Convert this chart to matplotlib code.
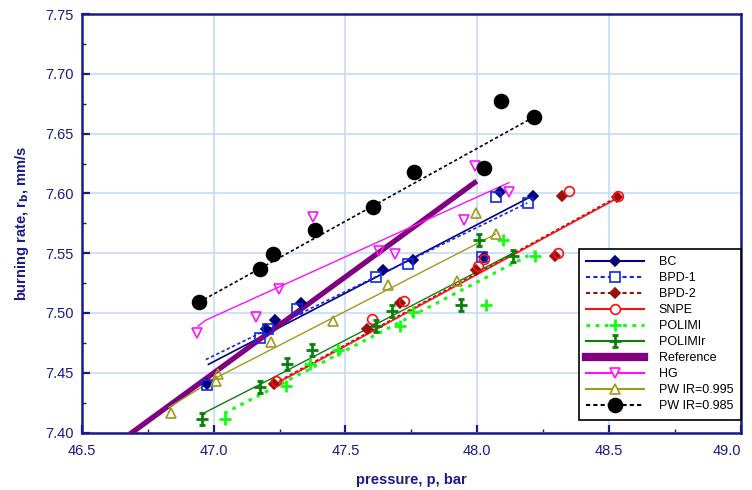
import matplotlib
matplotlib.use("Agg")
import matplotlib.pyplot as plt
from matplotlib.lines import Line2D
from matplotlib.path import Path
from matplotlib.ticker import MultipleLocator
import numpy as np

plt.rcParams['font.family'] = ['Liberation Sans', 'DejaVu Sans']

# ---------------- data ----------------
bc_x = [46.976, 47.200, 47.231, 47.333, 47.641, 47.755, 48.024, 48.085, 48.213]
bc_y = [7.441, 7.487, 7.494, 7.508, 7.536, 7.544, 7.547, 7.601, 7.598]
bc_fit_x = [46.98, 48.21]
bc_fit_y = [7.457, 7.598]

bpd1_x = [46.973, 47.175, 47.206, 47.317, 47.614, 47.736, 48.018, 48.072, 48.191]
bpd1_y = [7.440, 7.479, 7.487, 7.503, 7.530, 7.541, 7.547, 7.597, 7.592]
bpd1_fit_x = [46.97, 48.19]
bpd1_fit_y = [7.461, 7.592]

bpd2_x = [47.228, 47.582, 47.708, 47.995, 48.295, 48.321, 48.529]
bpd2_y = [7.441, 7.487, 7.508, 7.536, 7.548, 7.598, 7.597]
bpd2_fit_x = [47.23, 48.54]
bpd2_fit_y = [7.441, 7.598]

snpe_x = [47.235, 47.601, 47.723, 48.004, 48.024, 48.308, 48.350, 48.536]
snpe_y = [7.443, 7.495, 7.510, 7.539, 7.545, 7.550, 7.602, 7.598]
snpe_fit_x = [47.23, 48.54]
snpe_fit_y = [7.440, 7.597]

polimi_x = [47.042, 47.273, 47.365, 47.471, 47.708, 47.756, 48.034, 48.097, 48.220]
polimi_y = [7.411, 7.439, 7.457, 7.469, 7.489, 7.501, 7.507, 7.561, 7.548]
polimi_fit_x = [47.04, 48.22]
polimi_fit_y = [7.416, 7.551]

polimir_x = [46.957, 47.175, 47.277, 47.374, 47.614, 47.677, 47.938, 48.008, 48.135]
polimir_y = [7.411, 7.438, 7.457, 7.469, 7.489, 7.502, 7.507, 7.561, 7.548]
polimir_fit_x = [46.96, 47.20, 48.135]
polimir_fit_y = [7.416, 7.443, 7.550]

ref_x = [46.69, 47.99]
ref_y = [7.400, 7.609]

hg_x = [46.937, 47.160, 47.246, 47.378, 47.626, 47.687, 47.948, 47.992, 48.122]
hg_y = [7.483, 7.497, 7.520, 7.580, 7.552, 7.549, 7.578, 7.623, 7.601]
hg_fit_x = [46.94, 46.97, 48.12]
hg_fit_y = [7.489, 7.494, 7.609]

pw995_x = [46.837, 47.010, 47.016, 47.216, 47.452, 47.660, 47.925, 47.996, 48.072]
pw995_y = [7.416, 7.443, 7.449, 7.476, 7.493, 7.523, 7.527, 7.584, 7.566]
pw995_fit_x = [46.83, 47.02, 48.07]
pw995_fit_y = [7.421, 7.447, 7.566]

pw985_x = [46.944, 47.174, 47.226, 47.383, 47.605, 47.759, 48.024, 48.091, 48.216]
pw985_y = [7.509, 7.537, 7.549, 7.569, 7.589, 7.618, 7.621, 7.677, 7.664]
pw985_fit_x = [46.944, 48.216]
pw985_fit_y = [7.509, 7.664]

x_ticks = [46.5, 47.0, 47.5, 48.0, 48.5, 49.0]
y_ticks = [7.40, 7.45, 7.50, 7.55, 7.60, 7.65, 7.70, 7.75]

# ---------------- styles ----------------
navy = '#000080'
axis_col = '#1a1a8c'
grid_col = '#c6dcf7'

# error-bar like marker for POLIMIr
ibeam = Path([(-0.5, 1), (0.5, 1), (0, 1), (0, -1), (-0.5, -1), (0.5, -1), (-1, 0), (1, 0)],
             [Path.MOVETO, Path.LINETO, Path.MOVETO, Path.LINETO,
              Path.MOVETO, Path.LINETO, Path.MOVETO, Path.LINETO])

fig = plt.figure(figsize=(7.52, 4.90), dpi=100)
ax = fig.add_axes([0.109, 0.1173, 0.876, 0.854])

ax.set_xlim(46.5, 49.0)
ax.set_ylim(7.40, 7.75)
ax.set_xticks(x_ticks)
ax.set_yticks(y_ticks)
ax.set_xticklabels([f"{v:.1f}" for v in x_ticks])
ax.set_yticklabels([f"{v:.2f}" for v in y_ticks])
ax.xaxis.set_minor_locator(MultipleLocator(0.25))
ax.yaxis.set_minor_locator(MultipleLocator(0.025))
ax.grid(True, which='major', color=grid_col, linewidth=1.2, zorder=0)
ax.set_axisbelow(True)
ax.tick_params(which='both', direction='in', colors=axis_col, labelcolor=axis_col,
               labelsize=10.5, top=False, right=False)
ax.tick_params(which='major', length=6, width=1.6)
ax.tick_params(which='minor', length=3, width=1.0)
ax.tick_params(axis='x', pad=8)
ax.tick_params(axis='y', pad=6)
for s in ax.spines.values():
    s.set_color(axis_col)
    s.set_linewidth(1.8)
# keep the last x label inside the picture
ax.get_xticklabels()[-1].set_horizontalalignment('right')
ax.get_xticklabels()[-1].set_x(49.0)

ax.set_xlabel('pressure, p, bar', fontsize=10.5, fontweight='bold', color=axis_col, labelpad=11)
ax.set_ylabel('burning rate, r$_{\\mathbf{b}}$, mm/s', fontsize=10.5, fontweight='bold',
              color=axis_col, labelpad=10)

series = [
    # label, px, py, fx, fy, color, ls, lw, marker, ms, mfc
    ('BC', bc_x, bc_y, bc_fit_x, bc_fit_y, navy, '-', 1.2, 'D', 5.5, navy),
    ('BPD-1', bpd1_x, bpd1_y, bpd1_fit_x, bpd1_fit_y, '#1428e6', (0, (2, 1.5)), 1.2, 's', 7, 'none'),
    ('BPD-2', bpd2_x, bpd2_y, bpd2_fit_x, bpd2_fit_y, '#9b0f0f', (0, (2, 1.5)), 1.2, 'D', 5.5, '#9b0f0f'),
    ('SNPE', snpe_x, snpe_y, snpe_fit_x, snpe_fit_y, '#ff1010', '-', 1.2, 'o', 7, 'none'),
    ('POLIMI', polimi_x, polimi_y, polimi_fit_x, polimi_fit_y, '#10ff10', (0, (1.2, 1.8)), 2.2, '+', 9, '#10ff10'),
    ('POLIMIr', polimir_x, polimir_y, polimir_fit_x, polimir_fit_y, '#0a800a', '-', 1.0, ibeam, 8, '#0a800a'),
    ('Reference', ref_x, ref_y, ref_x, ref_y, '#800080', '-', 3.8, None, 0, 'none'),
    ('HG', hg_x, hg_y, hg_fit_x, hg_fit_y, '#ff10ff', '-', 1.0, 'v', 7, 'none'),
    ('PW IR=0.995', pw995_x, pw995_y, pw995_fit_x, pw995_fit_y, '#a09a1a', '-', 1.0, '^', 7, 'none'),
    ('PW IR=0.985', pw985_x, pw985_y, pw985_fit_x, pw985_fit_y, 'black', (0, (2, 1.5)), 1.2, 'o', 10, 'black'),
]

handles = []
for i, (lab, px, py, fx, fy, col, ls, lw, mk, ms, mfc) in enumerate(series):
    ax.plot(fx, fy, color=col, linestyle=ls, linewidth=lw, zorder=3 + i * 0.1)
    mew = 2.0 if mk is ibeam or mk == '+' else 1.2
    if lab != 'Reference':
        ax.plot(px, py, linestyle='none', marker=mk, markersize=ms, markerfacecolor=mfc,
                markeredgecolor=col, markeredgewidth=mew, zorder=4 + i * 0.1)
        h = Line2D([], [], color=col, linestyle=ls, linewidth=max(lw, 1.5) if lab != 'POLIMI' else lw,
                   marker=mk, markersize=ms, markerfacecolor=mfc if mfc != 'none' else 'white',
                   markeredgecolor=col, markeredgewidth=mew)
    else:
        h = Line2D([], [], color=col, linestyle='-', linewidth=6)
    handles.append(h)

leg = ax.legend(handles, [s[0] for s in series], loc='lower right',
                bbox_to_anchor=(1.0, 0.03), fontsize=9, handlelength=4.6,
                handletextpad=1.2, labelspacing=0.32, borderpad=0.6,
                frameon=True, fancybox=False, framealpha=1, edgecolor='black',
                borderaxespad=0.0)
leg.get_frame().set_linewidth(1.2)
leg.set_zorder(10)

fig.savefig('out.png', dpi=100)
